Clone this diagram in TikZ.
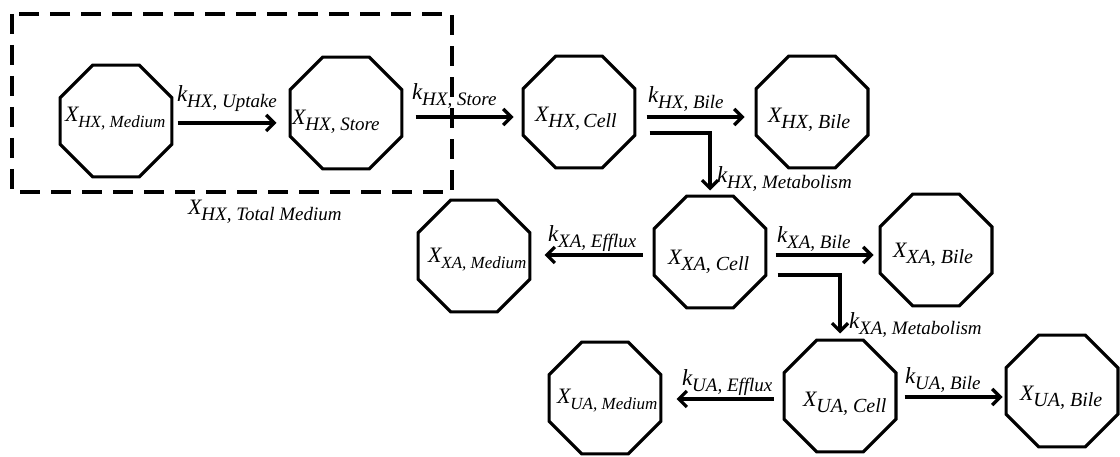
\documentclass[tikz,border=0pt]{standalone}
\usepackage{fontspec}
\setmainfont{Liberation Serif}
\newfontfamily\tnrfont{Liberation Serif}
\usetikzlibrary{shapes.geometric,arrows.meta}
\newcommand\XL[4]{{\tnrfont\fontsize{#3}{#3}\selectfont\itshape #1}\raisebox{-6pt}{\tnrfont\fontsize{#4}{#4}\selectfont\itshape #2}}
\begin{document}
\begin{tikzpicture}[x=1pt,y=-1pt,
  oct/.style={draw,line width=3.2pt,regular polygon,regular polygon sides=8,minimum size=121pt,inner sep=0pt},
  arr/.style={line width=3.2pt,-{Straight Barb[length=8pt,width=16pt]}},
  txt/.style={anchor=base west,inner sep=0pt,outer sep=0pt}]
\useasboundingbox (0,0) rectangle (1120,457);
% dashed group box
\draw[line width=4.5pt,dash pattern=on 20pt off 11pt] (12,14) rectangle (452,192);
% compartments
\node[oct] (HXm) at (116,121) {};
\node[oct] (HXs) at (346,113) {};
\node[oct] (HXc) at (579,112) {};
\node[oct] (HXb) at (812,112) {};
\node[oct] (XAm) at (474,256) {};
\node[oct] (XAc) at (710,252) {};
\node[oct] (XAb) at (936,250) {};
\node[oct] (UAm) at (605,398) {};
\node[oct] (UAc) at (840,396) {};
\node[oct] (UAb) at (1062,391) {};
% compartment texts
\node[txt] (tHXm) at (65,122) {\XL{X}{HX, Medium}{22}{17}};
\node[txt] (tHXs) at (292,125) {\XL{X}{HX, Store}{22}{19}};
\node[txt] (tHXc) at (535,122) {\XL{X}{HX,\,Cell}{22}{20}};
\node[txt] (tHXb) at (768,123) {\XL{X}{HX, Bile}{22}{20}};
\node[txt] (tXAm) at (428,263) {\XL{X}{XA, Medium}{22}{17}};
\node[txt] (tXAc) at (668,265) {\XL{X}{XA, Cell}{22}{20}};
\node[txt] (tXAb) at (893,258) {\XL{X}{XA, Bile}{22}{20}};
\node[txt] (tUAm) at (557,403) {\XL{X}{UA, Medium}{22}{17}};
\node[txt] (tUAc) at (803,406) {\XL{X}{UA, Cell}{22}{20}};
\node[txt] (tUAb) at (1020,400) {\XL{X}{UA, Bile}{22}{20}};
\node[txt] (tTot) at (188,215) {\XL{X}{HX, Total Medium}{22}{19}};
% transfers
\draw[arr] ([shift={(4,2)}]HXm.east) -- ([shift={(-12,10)}]HXs.west);
\draw[arr] ([shift={(12,4)}]HXs.east) -- ([shift={(-8,5)}]HXc.west);
\draw[arr] ([shift={(10,5)}]HXc.east) -- ([shift={(-10,5)}]HXb.west);
\draw[arr,shorten >=4pt] ([shift={(13,21)}]HXc.east) -| (XAc.north);
\draw[arr] ([shift={(-10,3)}]XAc.west) -- ([shift={(13,-1)}]XAm.east);
\draw[arr] ([shift={(8,3)}]XAc.east) -- ([shift={(-5,5)}]XAb.west);
\draw[arr,shorten >=5pt] ([shift={(10,23)}]XAc.east) -| (UAc.north);
\draw[arr] ([shift={(-9,3)}]UAc.west) -- ([shift={(14,1)}]UAm.east);
\draw[arr] ([shift={(7,1)}]UAc.east) -- ([shift={(-2,6)}]UAb.west);
% rate constants
\node[txt] (kHXu) at (177,102) {\XL{k}{HX, Uptake}{23}{19}};
\node[txt] (kHXs) at (412,100) {\XL{k}{HX, Store}{23}{19}};
\node[txt] (kHXb) at (648,103) {\XL{k}{HX, Bile}{23}{19}};
\node[txt] (kHXm) at (717,183) {\XL{k}{HX, Metabolism}{23}{19}};
\node[txt] (kXAe) at (548,242) {\XL{k}{XA, Efflux}{23}{19}};
\node[txt] (kXAb) at (777,243) {\XL{k}{XA, Bile}{23}{19}};
\node[txt] (kXAm) at (849,328) {\XL{k}{XA, Metabolism}{23}{19}};
\node[txt] (kUAe) at (682,385) {\XL{k}{UA, Efflux}{23}{19}};
\node[txt] (kUAb) at (905,383) {\XL{k}{UA, Bile}{23}{19}};
\end{tikzpicture}
\end{document}
